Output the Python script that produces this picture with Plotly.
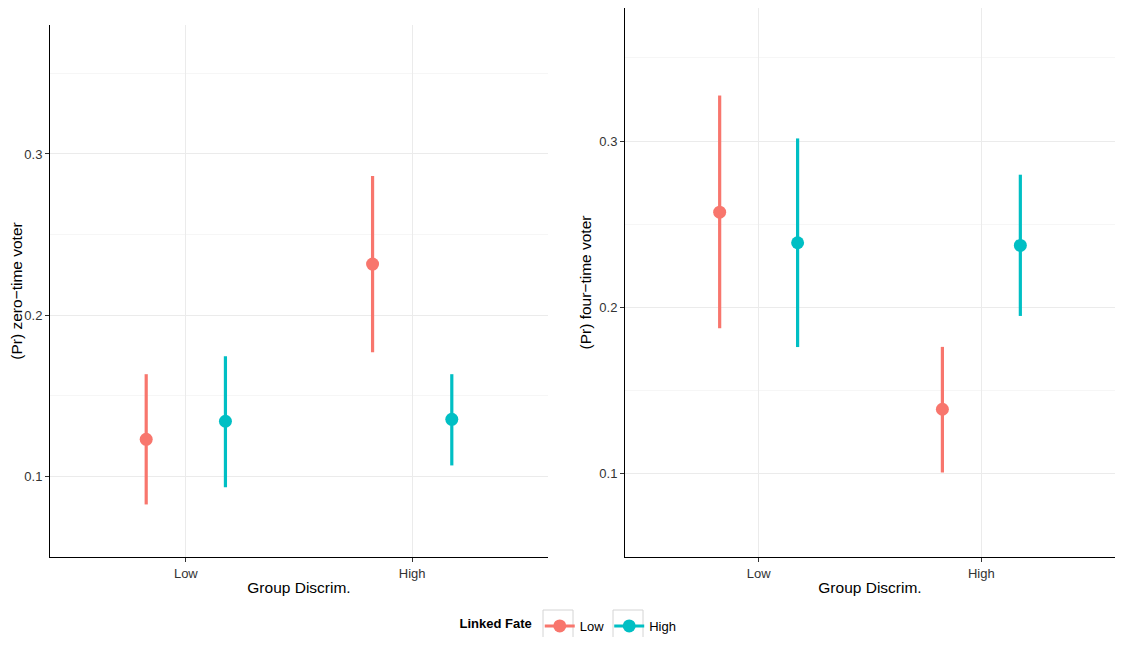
import numpy as np
import plotly.graph_objects as go

# ---------------- data ----------------
categories = ["Low", "High"]            # Group Discrim.
groups = ["Low", "High"]                # Linked Fate
colors = ["#F8766D", "#00BFC4"]

# Panel 1: (Pr) zero-time voter
zero_est = {"Low": [0.123, 0.2317], "High": [0.1342, 0.1354]}
zero_lo = {"Low": [0.0826, 0.177], "High": [0.0932, 0.1068]}
zero_hi = {"Low": [0.1634, 0.2863], "High": [0.1745, 0.1634]}

# Panel 2: (Pr) four-time voter
four_est = {"Low": [0.2573, 0.1388], "High": [0.2389, 0.2373]}
four_lo = {"Low": [0.1875, 0.1008], "High": [0.1762, 0.1949]}
four_hi = {"Low": [0.3274, 0.1763], "High": [0.3016, 0.2798]}

y_ticks = [0.1, 0.2, 0.3]
y_minor = [0.15, 0.25, 0.35]
dodge = 0.175

# page offset (browser body margin) compensation
OFF = 8
W, H = 1123 - 2 * OFF, 645 - 2 * OFF


def px_x(sx, clip=True):
    v = (sx - OFF) / W
    return min(max(v, 0), 1) if clip else v


def px_y(sy, clip=True):
    v = 1 - (sy - OFF) / H
    return min(max(v, 0), 1) if clip else v


fig = go.Figure()

panels = [
    ("x", "y", zero_est, zero_lo, zero_hi),
    ("x2", "y2", four_est, four_lo, four_hi),
]
base = np.arange(1, len(categories) + 1)
for xa, ya, est, lo, hi in panels:
    for gi, g in enumerate(groups):
        e = np.array(est[g]); l = np.array(lo[g]); h = np.array(hi[g])
        off = -dodge if gi == 0 else dodge
        fig.add_trace(go.Scatter(
            x=base + off, y=e, mode="markers", xaxis=xa, yaxis=ya,
            marker=dict(color=colors[gi], size=13),
            error_y=dict(type="data", symmetric=False, array=h - e,
                         arrayminus=e - l, thickness=3.2, width=0,
                         color=colors[gi]),
            showlegend=False, hoverinfo="skip"))

# legend-only traces
for gi, g in enumerate(groups):
    fig.add_trace(go.Scatter(
        x=[None], y=[None], mode="lines+markers", name=g,
        line=dict(color=colors[gi], width=3),
        marker=dict(color=colors[gi], size=13)))

font_fam = "Liberation Sans, Arial, Helvetica, sans-serif"


def xaxis_common(domain):
    return dict(
        domain=domain, range=[0.4, 2.6], tickvals=list(base), ticktext=categories,
        showline=True, linecolor="black", linewidth=1, mirror=False,
        ticks="outside", ticklen=4, tickcolor="#333333", tickwidth=1,
        showgrid=True, gridcolor="#EBEBEB", gridwidth=1, zeroline=False,
        tickfont=dict(size=13, color="#333333", family=font_fam),
        title=dict(text="Group Discrim.", font=dict(size=15.5, color="black", family=font_fam), standoff=2),
    )


def yaxis_common(domain, title, anchor):
    return dict(
        domain=domain, range=[0.05, 0.38], tickvals=y_ticks,
        ticktext=[str(v) for v in y_ticks], anchor=anchor,
        showline=True, linecolor="black", linewidth=1,
        ticks="outside", ticklen=4, tickcolor="#333333", tickwidth=1,
        showgrid=True, gridcolor="#EBEBEB", gridwidth=1, zeroline=False,
        minor=dict(tickvals=y_minor, showgrid=True, gridcolor="#F6F6F6", gridwidth=1, ticklen=0),
        tickfont=dict(size=13, color="#333333", family=font_fam),
        title=dict(text=title, font=dict(size=15.5, color="black", family=font_fam), standoff=3),
    )


# legend key boxes (ggplot legend.key border)
key_boxes = [(543, 573), (613, 643)]
shapes = []
for x0, x1 in key_boxes:
    shapes.append(dict(type="rect", xref="paper", yref="paper",
                       x0=px_x(x0, False), x1=px_x(x1, False),
                       y0=px_y(650, False), y1=px_y(610, False),
                       line=dict(color="#D4D4D4", width=1), fillcolor="rgba(0,0,0,0)",
                       layer="below"))

fig.update_layout(
    width=W, height=H,
    margin=dict(l=0, r=0, t=0, b=0, autoexpand=False),
    paper_bgcolor="white", plot_bgcolor="white",
    font=dict(family=font_fam, size=13, color="black"),
    xaxis=xaxis_common([px_x(50), px_x(548)]) | dict(anchor="y"),
    yaxis=yaxis_common([px_y(557), px_y(25)], "(Pr) zero\u2212time voter", "x"),
    xaxis2=xaxis_common([px_x(625), px_x(1122)]) | dict(anchor="y2"),
    yaxis2=yaxis_common([px_y(557), px_y(3)], "(Pr) four\u2212time voter", "x2"),
    legend=dict(
        orientation="h", x=px_x(569.5), xanchor="center", y=px_y(626), yanchor="middle",
        title=dict(text="<b>Linked Fate</b>", font=dict(size=13, family=font_fam)),
        font=dict(size=13, family=font_fam), itemwidth=30,
        bgcolor="rgba(0,0,0,0)",
    ),
    shapes=shapes,
    showlegend=True,
)

fig.write_html("out.html")
